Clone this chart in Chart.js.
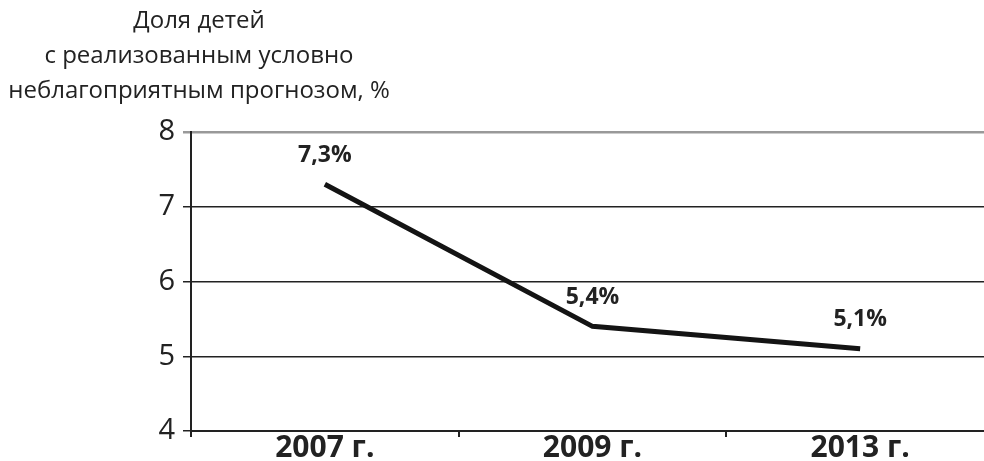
<!DOCTYPE html>
<html>
<head>
<meta charset="utf-8">
<script src="https://cdn.jsdelivr.net/npm/chart.js@4/dist/chart.umd.min.js"></script>
<style>
  html, body { margin: 0; padding: 0; background: #fff; overflow: hidden; }
  #wrap { position: relative; width: 994px; height: 461px; }
  #title {
    position: absolute; left: 0; top: 1px; width: 398px;
    text-align: center; font-family: "Open Sans", sans-serif;
    font-size: 24px; line-height: 35px; color: #222; white-space: nowrap;
  }
</style>
</head>
<body>
<div id="wrap">
  <canvas id="chart" width="994" height="461"></canvas>
  <div id="title">Доля детей<br>с реализованным условно<br>неблагоприятным прогнозом, %</div>
</div>
<script>
var years = ['2007 г.', '2009 г.', '2013 г.'];
var shares = [7.3, 5.4, 5.1];
var valueLabels = ['7,3%', '5,4%', '5,1%'];

var pointLabels = {
    id: 'pointLabels',
    afterDatasetsDraw: function (chart) {
        var ctx = chart.ctx;
        var meta = chart.getDatasetMeta(0);
        ctx.save();
        ctx.font = 'bold 23px "Open Sans"';
        ctx.fillStyle = '#222';
        ctx.textAlign = 'center';
        ctx.textBaseline = 'middle';
        meta.data.forEach(function (pt, i) {
            ctx.fillText(valueLabels[i], pt.x, pt.y - 29);
        });
        ctx.restore();
    }
};

var ctx = document.getElementById('chart');
new Chart(ctx, {
    type: 'line',
    data: {
        labels: years,
        datasets: [{
            data: shares,
            borderColor: '#141414',
            borderWidth: 5,
            pointRadius: 0,
            tension: 0,
            fill: false
        }]
    },
    options: {
        responsive: false,
        animation: false,
        layout: { padding: { top: 132, left: 0, right: 0, bottom: 0 } },
        plugins: {
            legend: { display: false },
            tooltip: { enabled: false }
        },
        scales: {
            x: {
                offset: true,
                grid: {
                    offset: true,
                    drawOnChartArea: false,
                    drawTicks: true,
                    tickLength: 6,
                    color: '#222',
                    lineWidth: 2
                },
                border: { display: true, color: '#222', width: 2 },
                ticks: {
                    color: '#222',
                    padding: -7,
                    font: { family: 'Open Sans', size: 30, weight: 'bold' }
                },
                afterFit: function (scale) { scale.height = 30; }
            },
            y: {
                min: 4,
                max: 8,
                ticks: {
                    stepSize: 1,
                    color: '#222',
                    padding: 8,
                    font: { family: 'Open Sans', size: 29 }
                },
                grid: {
                    tickLength: 8,
                    color: function (c) { return c.tick && c.tick.value === 8 ? '#999' : '#222'; },
                    lineWidth: function (c) { return c.tick && c.tick.value === 8 ? 2.5 : 1.5; }
                },
                border: { display: true, color: '#222', width: 2 },
                afterFit: function (scale) { scale.width = 191; }
            }
        }
    },
    plugins: [pointLabels]
});
</script>
</body>
</html>
